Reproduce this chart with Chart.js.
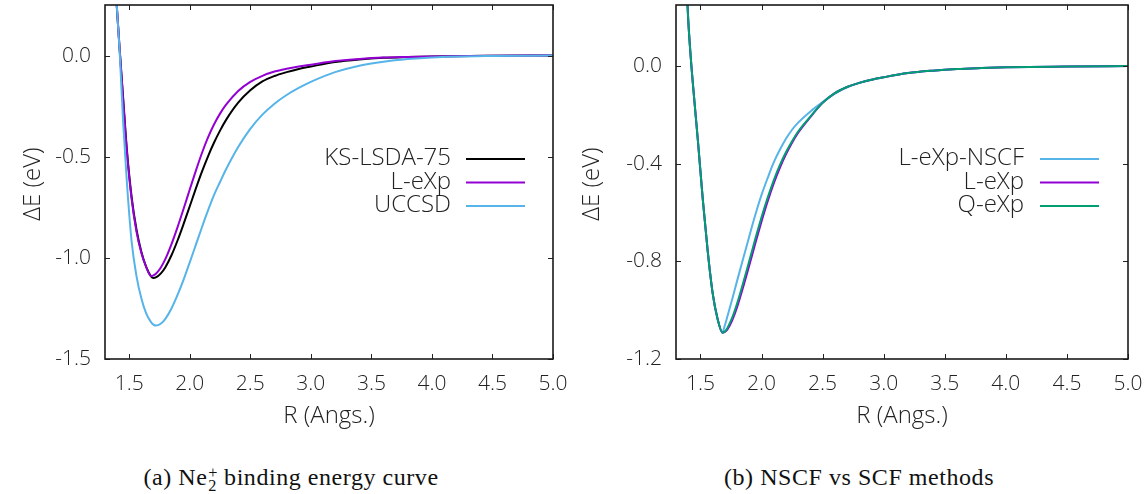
<!DOCTYPE html>
<html>
<head>
<meta charset="utf-8">
<script src="https://cdn.jsdelivr.net/npm/chart.js@4.4.1/dist/chart.umd.min.js"></script>
<style>
  html, body { margin: 0; padding: 0; background: #ffffff; }
  body { width: 1144px; height: 494px; position: relative; overflow: hidden; }
  .box { position: absolute; top: 0; width: 572px; height: 440px; }
  .cap { position: absolute; top: 464px; font-family: "Liberation Serif", "DejaVu Serif", serif; font-size: 24px; letter-spacing: 0.55px; color: #111; white-space: nowrap; transform: translateX(-50%); }
  .ss { display: inline-block; vertical-align: -0.34em; line-height: 0.8; font-size: 0.68em; text-align: left; margin-left: 1px; letter-spacing: 0; }
</style>
</head>
<body>
<div class="box" style="left:0"><canvas id="c1" width="572" height="440"></canvas></div>
<div class="box" style="left:572px"><canvas id="c2" width="572" height="440"></canvas></div>
<div class="cap" style="left:291px">(a) Ne<span class="ss">+<br>2</span> binding energy curve</div>
<div class="cap" style="left:859px">(b) NSCF vs SCF methods</div>
<script>
// ---------------- data ----------------
const R = [1.38, 1.40, 1.42, 1.45, 1.48, 1.52, 1.56, 1.60, 1.64, 1.68, 1.70, 1.72, 1.76, 1.80, 1.85, 1.90, 1.95, 2.00, 2.05, 2.10, 2.15, 2.20, 2.25, 2.30, 2.40, 2.50, 2.60, 2.70, 2.80, 2.90, 3.00, 3.20, 3.40, 3.60, 3.80, 4.00, 4.50, 5.00];

// panel (a)
const E_ksLsda75 = [0.42, 0.22, 0.04, -0.21, -0.46, -0.70, -0.86, -0.97, -1.045, -1.092, -1.100, -1.097, -1.078, -1.045, -0.986, -0.913, -0.831, -0.745, -0.658, -0.575, -0.499, -0.431, -0.371, -0.318, -0.233, -0.172, -0.128, -0.101, -0.082, -0.066, -0.054, -0.032, -0.019, -0.011, -0.007, -0.004, -0.001, 0.0];
const E_lExpA = [0.42, 0.22, 0.04, -0.22, -0.47, -0.71, -0.87, -0.975, -1.045, -1.090, -1.087, -1.079, -1.049, -1.004, -0.931, -0.847, -0.756, -0.662, -0.570, -0.483, -0.406, -0.341, -0.287, -0.243, -0.175, -0.130, -0.100, -0.079, -0.065, -0.054, -0.045, -0.027, -0.017, -0.010, -0.0065, -0.004, -0.001, 0.0];
const E_uccsd = [0.45, 0.22, 0.03, -0.33, -0.62, -0.92, -1.09, -1.20, -1.275, -1.318, -1.330, -1.335, -1.326, -1.300, -1.249, -1.182, -1.106, -1.022, -0.936, -0.850, -0.767, -0.690, -0.625, -0.562, -0.452, -0.362, -0.292, -0.238, -0.195, -0.160, -0.130, -0.082, -0.050, -0.030, -0.017, -0.009, -0.002, 0.0];

// panel (b)
const E_lExpNscf = [0.40, 0.19, 0.04, -0.14, -0.31, -0.55, -0.76, -0.93, -1.035, -1.090, -1.062, -1.027, -0.955, -0.880, -0.788, -0.697, -0.608, -0.528, -0.459, -0.395, -0.343, -0.298, -0.261, -0.232, -0.186, -0.148, -0.113, -0.087, -0.069, -0.056, -0.046, -0.029, -0.019, -0.012, -0.008, -0.005, -0.002, 0.0];
const E_lExpB = [0.40, 0.19, 0.04, -0.14, -0.31, -0.55, -0.76, -0.93, -1.035, -1.092, -1.089, -1.080, -1.042, -0.988, -0.905, -0.816, -0.725, -0.637, -0.555, -0.481, -0.417, -0.362, -0.314, -0.273, -0.209, -0.151, -0.111, -0.086, -0.069, -0.056, -0.046, -0.029, -0.019, -0.012, -0.008, -0.005, -0.002, 0.0];
const E_qExp = [0.40, 0.19, 0.04, -0.14, -0.31, -0.55, -0.76, -0.93, -1.035, -1.092, -1.087, -1.074, -1.031, -0.973, -0.888, -0.798, -0.707, -0.620, -0.540, -0.468, -0.406, -0.353, -0.308, -0.268, -0.207, -0.151, -0.111, -0.086, -0.069, -0.056, -0.046, -0.029, -0.019, -0.012, -0.008, -0.005, -0.002, 0.0];

const labelsA = ["KS-LSDA-75", "L-eXp", "UCCSD"];
const labelsB = ["L-eXp-NSCF", "L-eXp", "Q-eXp"];
const xTicks = [1.5, 2.0, 2.5, 3.0, 3.5, 4.0, 4.5, 5.0];
const yTicksA = [-1.5, -1.0, -0.5, 0.0];
const yTicksB = [-1.2, -0.8, -0.4, 0.0];
const xTitle = "R (Angs.)";
const yTitle = "\u0394E (eV)";

// ---------------- styling ----------------
const COL = { black: "#000000", purple: "#9400d3", blue: "#56b4e9", green: "#009e73" };
const FONT = "'Open Sans', 'Noto Sans', 'DejaVu Sans', sans-serif";
const TXT = "#222222";

function pts(ys) { return R.map((r, i) => ({ x: r, y: ys[i] })); }

function ds(label, ys, color, n, i) {
  return {
    label, data: pts(ys), borderColor: color, backgroundColor: color,
    borderWidth: 2, pointRadius: 0, fill: false,
    cubicInterpolationMode: "monotone", order: n - i
  };
}

const framePlugin = {
  id: "frame",
  afterDatasetsDraw(chart, args, opts) {
    const { ctx, chartArea: a, scales } = chart;
    ctx.save();
    ctx.strokeStyle = "#222";
    ctx.lineWidth = 1;
    const tl = 5;
    ctx.beginPath();
    scales.x.ticks.forEach(t => {
      const px = Math.round(scales.x.getPixelForValue(t.value)) + 0.5;
      ctx.moveTo(px, a.bottom); ctx.lineTo(px, a.bottom - tl);
      ctx.moveTo(px, a.top); ctx.lineTo(px, a.top + tl);
    });
    scales.y.ticks.forEach(t => {
      const py = Math.round(scales.y.getPixelForValue(t.value)) + 0.5;
      ctx.moveTo(a.left, py); ctx.lineTo(a.left + tl, py);
      ctx.moveTo(a.right, py); ctx.lineTo(a.right - tl, py);
    });
    ctx.stroke();
    ctx.lineWidth = 1.6;
    ctx.strokeStyle = "#1a1a1a";
    ctx.strokeRect(a.left, a.top, a.right - a.left, a.bottom - a.top);

    // legend (right-aligned text with line sample on the right)
    ctx.font = "300 24px " + FONT;
    ctx.fillStyle = TXT;
    ctx.textAlign = "right";
    ctx.textBaseline = "middle";
    chart.data.datasets.forEach((d, i) => {
      const y = opts.legendY + i * opts.legendDy;
      ctx.fillText(d.label, opts.textRight, y);
      ctx.strokeStyle = d.borderColor;
      ctx.lineWidth = 2;
      ctx.beginPath();
      ctx.moveTo(opts.lineX0, y + 0.5); ctx.lineTo(opts.lineX1, y + 0.5);
      ctx.stroke();
    });

    // axis titles
    ctx.fillStyle = TXT;
    ctx.textAlign = "center";
    ctx.textBaseline = "middle";
    ctx.font = "300 24px " + FONT;
    ctx.fillText(xTitle, (a.left + a.right) / 2, opts.xTitleY);
    ctx.save();
    ctx.translate(opts.yTitleX, (a.top + a.bottom) / 2 + 2);
    ctx.rotate(-Math.PI / 2);
    ctx.fillText(yTitle, 0, 0);
    ctx.restore();
    ctx.restore();
  }
};

function makeChart(id, sets, yMin, yTicks, padRight, yAxisW, opts) {
  return new Chart(document.getElementById(id), {
    type: "line",
    data: { datasets: sets },
    options: {
      responsive: false, animation: false, events: [],
      layout: { padding: { left: 0, right: padRight, top: 5, bottom: 0 } },
      plugins: { legend: { display: false }, tooltip: { enabled: false }, frame: opts },
      scales: {
        x: {
          type: "linear", min: 1.3, max: 5.0,
          grid: { display: false, drawTicks: false }, border: { display: false },
          afterBuildTicks: s => { s.ticks = xTicks.map(v => ({ value: v })); },
          afterFit: s => { s.height = 81; s.paddingLeft = 0; s.paddingRight = 0; },
          ticks: { color: TXT, font: { family: FONT, size: 21, weight: 300 }, padding: 12, maxRotation: 0,
                   callback: v => v.toFixed(1) }
        },
        y: {
          type: "linear", min: yMin, max: 0.25,
          grid: { display: false, drawTicks: false }, border: { display: false },
          afterBuildTicks: s => { s.ticks = yTicks.map(v => ({ value: v })); },
          afterFit: s => { s.width = yAxisW; s.paddingTop = 0; s.paddingBottom = 0; },
          ticks: { color: TXT, font: { family: FONT, size: 21, weight: 300 }, padding: 14,
                   callback: v => v.toFixed(1) }
        }
      }
    },
    plugins: [framePlugin]
  });
}

makeChart("c1", [
  ds(labelsA[0], E_ksLsda75, COL.black, 3, 0),
  ds(labelsA[1], E_lExpA, COL.purple, 3, 1),
  ds(labelsA[2], E_uccsd, COL.blue, 3, 2)
], -1.5, yTicksA, 19, 105,
  { legendY: 158.5, legendDy: 23.5, textRight: 451, lineX0: 466, lineX1: 525, xTitleY: 416, yTitleX: 33 });

makeChart("c2", [
  ds(labelsB[0], E_lExpNscf, COL.blue, 3, 0),
  ds(labelsB[1], E_lExpB, COL.purple, 3, 1),
  ds(labelsB[2], E_qExp, COL.green, 3, 2)
], -1.2, yTicksB, 16, 104,
  { legendY: 158.5, legendDy: 23.5, textRight: 452, lineX0: 468, lineX1: 527, xTitleY: 416, yTitleX: 20 });
</script>
</body>
</html>
